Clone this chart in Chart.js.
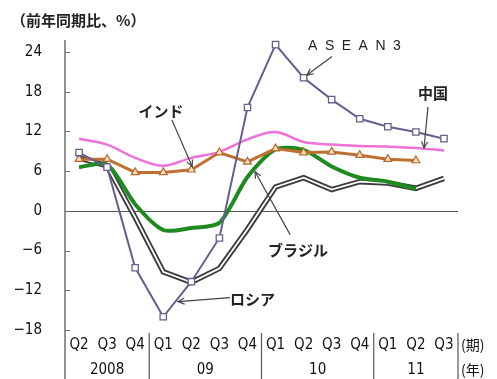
<!DOCTYPE html>
<html>
<head>
<meta charset="utf-8">
<script src="https://cdn.jsdelivr.net/npm/chart.js@4/dist/chart.umd.min.js"></script>
<style>
  html, body { margin: 0; padding: 0; background: #fff; }
  #wrap { width: 497px; height: 379px; }
</style>
</head>
<body>
<div id="wrap"><canvas id="c" width="497" height="379"></canvas></div>
<script>
// Quarterly real GDP growth, year on year (%)
const quarters = ['Q2','Q3','Q4','Q1','Q2','Q3','Q4','Q1','Q2','Q3','Q4','Q1','Q2','Q3'];
const years    = ['2008','2008','2008','09','09','09','09','10','10','10','10','11','11','11'];

const asean3 = [8.8, 6.6, -8.6, -16.0, -10.7, -4.1, 15.6, 25.1, 20.1, 16.8, 13.9, 12.7, 11.9, 10.9];
const china  = [10.9, 10.0, 8.0, 6.8, 8.0, 8.9, 10.8, 11.9, 10.4, 10.0, 9.8, 9.7, 9.5, 9.1];
const india  = [7.8, 7.8, 5.8, 5.8, 6.2, 8.8, 7.4, 9.4, 8.8, 8.9, 8.4, 7.8, 7.6, null];
const brazil = [6.6, 7.0, 1.0, -2.9, -2.6, -1.8, 5.1, 9.3, 9.2, 6.7, 5.0, 4.4, 3.3, null];
const russia = [8.0, 6.8, -1.0, -9.2, -10.8, -8.7, -2.8, 3.6, 5.0, 3.2, 4.4, 4.2, 3.4, 4.9];

const yTicks = [-18, -12, -6, 0, 6, 12, 18, 24];

const tickFont = "'Liberation Sans Narrow', 'DejaVu Sans Condensed', 'Liberation Sans', sans-serif";
const jpFont = "'Noto Sans CJK JP', sans-serif";

// Callout labels with leader arrows, placed in data units (category index, value)
const callouts = [
  { text: 'インド',   at: [2.92, 15.1], align: 'center', from: [3.31, 13.7], to: [4.03, 6.7] },
  { text: 'ASEAN3',   at: [8.16, 24.8], align: 'left',   from: [9.01, 23.3], to: [8.12, 20.5], latin: true },
  { text: '中国',     at: [12.61, 17.7], align: 'center', from: [12.43, 15.7], to: [12.29, 9.5] },
  { text: 'ブラジル', at: [6.73, -5.9], align: 'left',   from: [7.52, -3.6], to: [6.27, 5.9] },
  { text: 'ロシア',   at: [5.38, -13.3], align: 'left',  from: [5.38, -13.1], to: [3.53, -13.7] }
];

function arrow(ctx, x1, y1, x2, y2) {
  ctx.beginPath();
  ctx.moveTo(x1, y1);
  ctx.lineTo(x2, y2);
  ctx.stroke();
  const ang = Math.atan2(y2 - y1, x2 - x1);
  const len = 7, spread = 0.45;
  ctx.beginPath();
  ctx.moveTo(x2 - len * Math.cos(ang - spread), y2 - len * Math.sin(ang - spread));
  ctx.lineTo(x2, y2);
  ctx.lineTo(x2 - len * Math.cos(ang + spread), y2 - len * Math.sin(ang + spread));
  ctx.stroke();
}

const decor = {
  id: 'decor',
  beforeDatasetsDraw(chart) {
    const { ctx, chartArea: a, scales: { y } } = chart;
    ctx.save();
    const y0 = Math.round(y.getPixelForValue(0)) + 0.5;
    ctx.strokeStyle = '#555';
    ctx.lineWidth = 1;
    ctx.beginPath();
    ctx.moveTo(a.left, y0);
    ctx.lineTo(a.right, y0);
    ctx.stroke();
    ctx.restore();
  },
  afterDraw(chart) {
    const { ctx, chartArea: a, scales: { x, y } } = chart;
    const H = chart.height;
    ctx.save();

    // vertical axis, running down through the category band
    ctx.strokeStyle = '#6e6e6e';
    ctx.lineWidth = 1.5;
    ctx.beginPath();
    ctx.moveTo(a.left, a.top);
    ctx.lineTo(a.left, H);
    ctx.stroke();

    // inward tick marks
    ctx.lineWidth = 1;
    yTicks.forEach(v => {
      const py = Math.round(y.getPixelForValue(v)) + 0.5;
      ctx.beginPath();
      ctx.moveTo(a.left, py);
      ctx.lineTo(a.left + 5, py);
      ctx.stroke();
    });

    // year groups: separators and labels
    ctx.strokeStyle = '#555';
    ctx.lineWidth = 1.2;
    ctx.fillStyle = '#111';
    ctx.font = '15px ' + tickFont;
    ctx.textAlign = 'center';
    ctx.textBaseline = 'middle';
    let start = 0;
    for (let i = 1; i <= years.length; i++) {
      if (i === years.length || years[i] !== years[i - 1]) {
        const xb = x.getPixelForValue(i - 0.5);
        ctx.beginPath();
        ctx.moveTo(xb, a.bottom + 3);
        ctx.lineTo(xb, H);
        ctx.stroke();
        const xl = x.getPixelForValue(start - 0.5);
        ctx.fillText(years[start], (xl + xb) / 2, 370);
        start = i;
      }
    }

    // period / year unit labels
    ctx.font = '14px ' + jpFont;
    ctx.textAlign = 'left';
    const xr = x.getPixelForValue(years.length - 0.5) + 3;
    ctx.fillText('(期)', xr, 345);
    ctx.fillText('(年)', xr, 370);

    // unit title
    ctx.font = 'bold 15px ' + jpFont;
    ctx.fillStyle = '#222';
    ctx.fillText('（前年同期比、%）', 11, 20);

    // callouts
    ctx.strokeStyle = '#444';
    ctx.lineWidth = 1.2;
    callouts.forEach(c => {
      arrow(ctx,
        x.getPixelForValue(c.from[0]), y.getPixelForValue(c.from[1]),
        x.getPixelForValue(c.to[0]), y.getPixelForValue(c.to[1]));
      ctx.fillStyle = '#222';
      ctx.textAlign = c.align;
      ctx.textBaseline = 'middle';
      if (c.latin) {
        ctx.font = '14px ' + "'Liberation Sans', sans-serif";
        ctx.letterSpacing = '7.5px';
      } else {
        ctx.font = 'bold 15px ' + jpFont;
        ctx.letterSpacing = '0px';
      }
      ctx.fillText(c.text, x.getPixelForValue(c.at[0]), y.getPixelForValue(c.at[1]));
    });
    ctx.letterSpacing = '0px';
    ctx.restore();
  }
};

new Chart(document.getElementById('c'), {
  type: 'line',
  data: {
    labels: quarters,
    datasets: [
      {
        label: 'ASEAN3', data: asean3, order: 0,
        borderColor: '#6b5c90', borderWidth: 2, tension: 0,
        pointStyle: 'rect', pointRadius: 4.5,
        pointBackgroundColor: '#ffffff', pointBorderColor: '#6b5c90', pointBorderWidth: 1.3
      },
      {
        label: 'インド', data: india, order: 1,
        borderColor: '#c0702e', borderWidth: 3, tension: 0,
        pointStyle: 'triangle', pointRadius: 4.5,
        pointBackgroundColor: '#fbe2c2', pointBorderColor: '#b5662a', pointBorderWidth: 1.2
      },
      {
        label: 'ブラジル', data: brazil, order: 2,
        borderColor: '#1f8a1f', borderWidth: 4, tension: 0.25, pointRadius: 0
      },
      {
        label: '中国', data: china, order: 3,
        borderColor: '#ef70d6', borderWidth: 2.5, tension: 0.35, pointRadius: 0
      },
      {
        label: 'ロシア', data: russia, order: 4,
        borderColor: '#ffffff', borderWidth: 1.8, tension: 0, pointRadius: 0
      },
      {
        label: 'ロシア (outline)', data: russia, order: 5,
        borderColor: '#3b3b3b', borderWidth: 5.5, tension: 0, pointRadius: 0
      }
    ]
  },
  options: {
    responsive: false,
    animation: false,
    devicePixelRatio: 1,
    layout: { padding: { top: 40, right: 39, left: 0, bottom: 0 } },
    plugins: { legend: { display: false }, tooltip: { enabled: false }, title: { display: false } },
    scales: {
      x: {
        offset: true,
        grid: { display: false, drawTicks: false },
        border: { display: false },
        ticks: { color: '#111', font: { family: tickFont, size: 15 }, padding: 6, maxRotation: 0, autoSkip: false },
        afterFit(scale) { scale.height = 49; }
      },
      y: {
        min: -18, max: 25.8,
        grid: { display: false, drawTicks: false },
        border: { display: false },
        afterBuildTicks(scale) { scale.ticks = yTicks.map(v => ({ value: v })); },
        ticks: {
          color: '#111', font: { family: tickFont, size: 15 }, padding: 23,
          callback: v => String(v).replace('-', '\u2212')
        },
        afterFit(scale) { scale.width = 65; }
      }
    }
  },
  plugins: [decor]
});
</script>
</body>
</html>
